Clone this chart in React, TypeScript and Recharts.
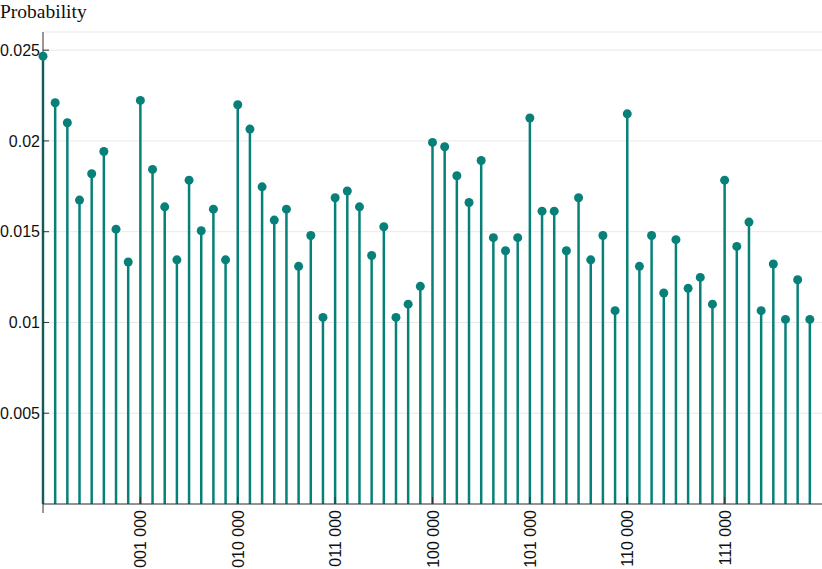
import React from "react";
import {
  ComposedChart,
  XAxis,
  YAxis,
  CartesianGrid,
  Scatter,
  ReferenceLine,
} from "recharts";

// measured probability for each basis state 000000 .. 111111
const probabilities = [
  0.02467, 0.0221, 0.021, 0.01674, 0.01819, 0.01942, 0.01514, 0.01333,
  0.02223, 0.01843, 0.01637, 0.01345, 0.01784, 0.01505, 0.01624, 0.01345,
  0.02199, 0.02065, 0.01747, 0.01564, 0.01624, 0.01309, 0.01479, 0.01028,
  0.01687, 0.01724, 0.01637, 0.01369, 0.01527, 0.01028, 0.01101, 0.01199,
  0.01992, 0.01968, 0.01808, 0.01661, 0.01892, 0.01467, 0.01395, 0.01467,
  0.02126, 0.01613, 0.01613, 0.01395, 0.01687, 0.01345, 0.01479, 0.01065,
  0.02149, 0.01309, 0.01479, 0.01162, 0.01456, 0.01188, 0.01248, 0.01101,
  0.01784, 0.01419, 0.01553, 0.01065, 0.01322, 0.01017, 0.01235, 0.01017,
];

const xTicks = [0, 8, 16, 24, 32, 40, 48, 56];
const xTickLabels = ["", "001 000", "010 000", "011 000", "100 000", "101 000", "110 000", "111 000"];
const yTicks = [0.005, 0.01, 0.015, 0.02, 0.025];
const yTickLabels = ["0.005", "0.01", "0.015", "0.02", "0.025"];

const data = probabilities.map((p, i) => ({ state: i, p }));

const TEAL = "#078079";
const AXIS = "#333";
const FONT = "'Liberation Sans', Arial, sans-serif";

const XTick = (props: any) => {
  const { x, y, payload } = props;
  const idx = xTicks.indexOf(payload.value);
  if (payload.value === 0) {
    return <line x1={x} x2={x} y1={y} y2={y + 9} stroke={AXIS} />;
  }
  return (
    <g>
      <line x1={x} x2={x} y1={y} y2={y - 7} stroke={AXIS} />
      <text
        transform={`translate(${x + 6},${y + 6}) rotate(-90)`}
        textAnchor="end"
        fontSize={16}
        fontFamily={FONT}
        fill="#111"
      >
        {xTickLabels[idx]}
      </text>
    </g>
  );
};

const YTick = (props: any) => {
  const { x, y, payload } = props;
  const idx = yTicks.indexOf(payload.value);
  return (
    <g>
      <line x1={x} x2={x + 6} y1={y} y2={y} stroke={AXIS} />
      <text x={x - 3} y={y} dy="0.36em" textAnchor="end" fontSize={16} fontFamily={FONT} fill="#111">
        {yTickLabels[idx]}
      </text>
    </g>
  );
};

const Dot = (props: any) => {
  const { cx, cy } = props;
  return <circle cx={cx} cy={cy} r={4.5} fill={TEAL} />;
};

export default function App() {
  return (
    <div style={{ position: "absolute", left: 0, top: 0, width: 822, height: 569, background: "#fff" }}>
      <div
        style={{
          position: "absolute",
          left: 0,
          top: 1,
          fontFamily: "'Liberation Serif', serif",
          fontSize: 19.5,
          color: "#111",
        }}
      >
        Probability
      </div>
      <ComposedChart
        width={822}
        height={569}
        data={data}
        margin={{ top: 32, right: 0, bottom: 0, left: 0 }}
      >
        <CartesianGrid vertical={false} stroke="#e8e8e8" />
        <XAxis
          type="number"
          dataKey="state"
          domain={[0, 64]}
          ticks={xTicks}
          interval={0}
          height={65}
          tickSize={0}
          tickMargin={0}
          tickLine={false}
          tick={<XTick />}
          axisLine={{ stroke: AXIS }}
        />
        <YAxis
          type="number"
          domain={[0, 0.026]}
          ticks={yTicks}
          interval={0}
          width={43}
          tickSize={0}
          tickMargin={0}
          tickLine={false}
          tick={<YTick />}
          axisLine={{ stroke: AXIS }}
        />
        {data.map((d) => (
          <ReferenceLine
            key={d.state}
            segment={[
              { x: d.state, y: 0 },
              { x: d.state, y: d.p },
            ]}
            stroke={TEAL}
            strokeWidth={2.5}
          />
        ))}
        <Scatter dataKey="p" fill={TEAL} shape={<Dot />} isAnimationActive={false} />
      </ComposedChart>
    </div>
  );
}
